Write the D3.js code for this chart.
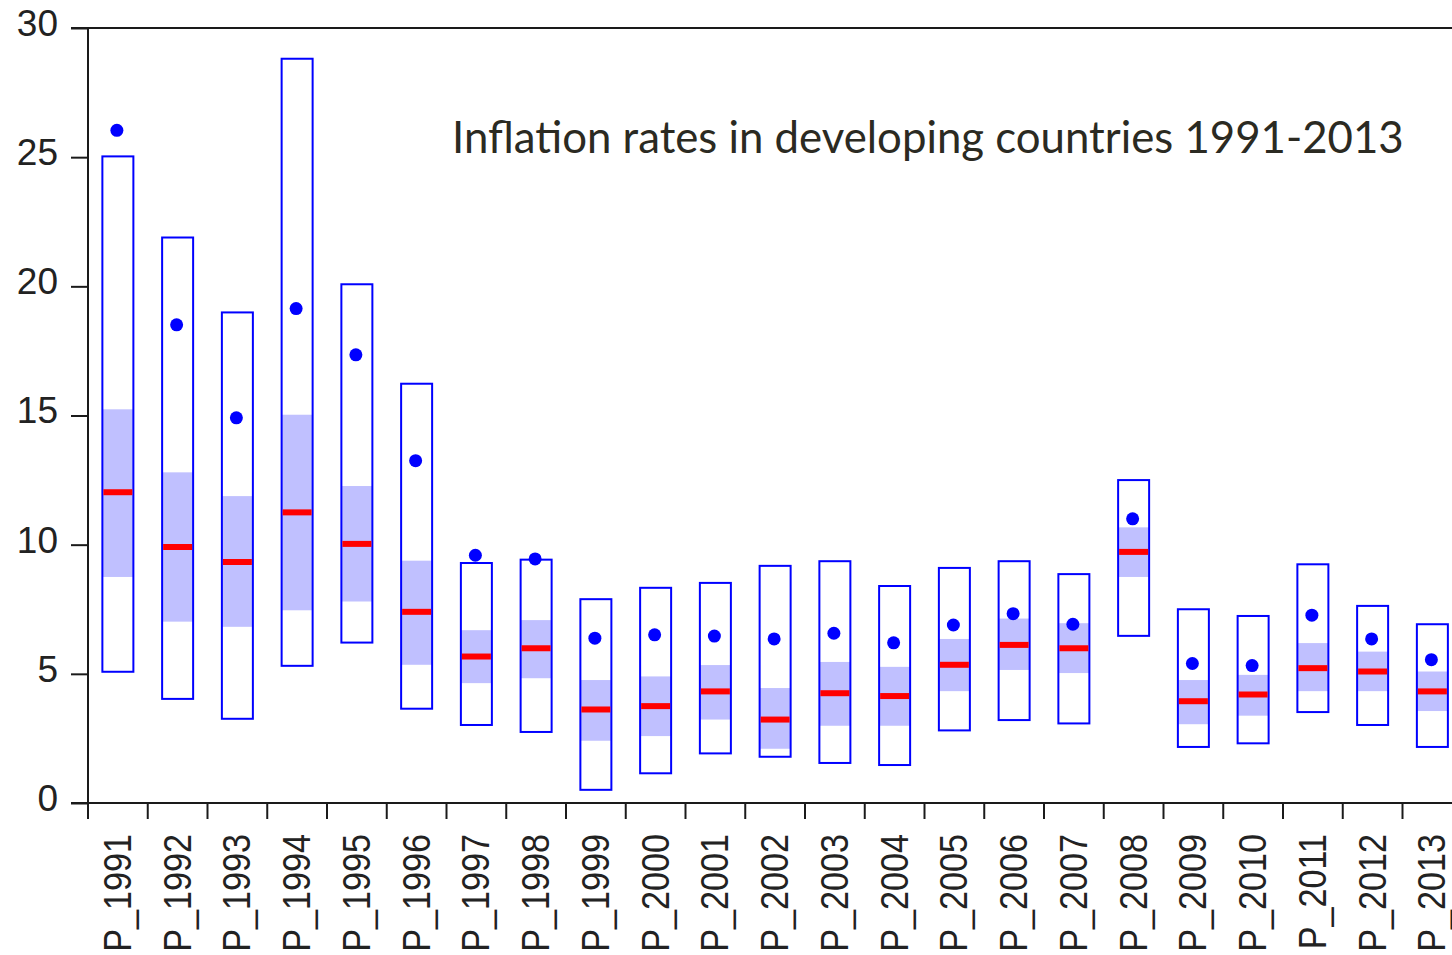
<!DOCTYPE html>
<html>
<head>
<meta charset="utf-8">
<script src="https://cdn.jsdelivr.net/npm/d3@7/dist/d3.min.js"></script>
<style>
html,body{margin:0;padding:0;background:#fff;overflow:hidden;}
svg{display:block;}
</style>
</head>
<body>
<svg id="chart" width="1452" height="955"></svg>
<script>
// ---- data ----
const years = ["P_1991","P_1992","P_1993","P_1994","P_1995","P_1996","P_1997","P_1998","P_1999","P_2000","P_2001","P_2002","P_2003","P_2004","P_2005","P_2006","P_2007","P_2008","P_2009","P_2010","P_2011","P_2012","P_2013"];
const maxVals    = [25.03,21.89,18.99,28.81,20.08,16.23,9.29,9.42,7.89,8.33,8.52,9.18,9.36,8.40,9.10,9.36,8.86,12.50,7.50,7.24,9.24,7.63,6.92];
const minVals    = [5.08,4.03,3.26,5.31,6.21,3.65,3.02,2.75,0.51,1.15,1.92,1.79,1.55,1.47,2.81,3.21,3.08,6.47,2.17,2.31,3.52,3.02,2.17];
const upperVals  = [15.24,12.80,11.88,15.03,12.27,9.38,6.69,7.08,4.76,4.90,5.34,4.45,5.46,5.27,6.35,7.14,6.96,10.67,4.76,4.96,6.19,5.86,5.09];
const lowerVals  = [8.75,7.02,6.82,7.46,7.80,5.35,4.64,4.83,2.41,2.59,3.23,2.10,2.99,2.99,4.33,5.15,5.03,8.75,3.05,3.38,4.33,4.33,3.56];
const medianVals = [12.03,9.91,9.33,11.25,10.03,7.40,5.67,5.99,3.62,3.75,4.32,3.23,4.25,4.14,5.35,6.12,5.99,9.72,3.94,4.20,5.22,5.09,4.32];
const meanVals   = [26.04,18.51,14.91,19.14,17.35,13.25,9.59,9.45,6.38,6.51,6.46,6.35,6.57,6.20,6.89,7.33,6.92,11.00,5.40,5.32,7.27,6.35,5.55];
const yTicks = [0,5,10,15,20,25,30];
const titleText = "Inflation rates in developing countries 1991-2013";

// ---- layout ----
const svg = d3.select("#chart");
const padL = 88, padT = 28, baseY = 803, slot = 59.75;
const x = d3.scaleBand().domain(years).range([padL, padL + years.length * slot]).padding(0);
const y = d3.scaleLinear().domain([0, 30]).range([baseY, padT]);
const boxW = 31;
const axisColor = "#1a1a1a";

// top frame line
svg.append("line").attr("x1", 71).attr("x2", 1452).attr("y1", y(30)).attr("y2", y(30))
  .attr("stroke", axisColor).attr("stroke-width", 2);

// y axis
const yAxis = d3.axisLeft(y).tickValues(yTicks).tickSize(17).tickPadding(13).tickFormat(d3.format("d"));
const gy = svg.append("g").attr("transform", `translate(${padL},0)`).call(yAxis);
gy.select(".domain").remove();
gy.selectAll(".tick line").attr("stroke", axisColor).attr("stroke-width", 2);
gy.selectAll(".tick text").attr("font-family", "'Liberation Sans', Arial, sans-serif")
  .attr("font-size", 37).attr("fill", "#222").attr("dy", "0.2em");
svg.append("line").attr("x1", padL).attr("x2", padL).attr("y1", y(30)).attr("y2", baseY + 16)
  .attr("stroke", axisColor).attr("stroke-width", 2);

// x axis
svg.append("line").attr("x1", 71).attr("x2", 1452).attr("y1", baseY).attr("y2", baseY)
  .attr("stroke", axisColor).attr("stroke-width", 2);
const gx = svg.append("g");
gx.selectAll("line.xt").data(years.slice(1)).join("line").attr("class", "xt")
  .attr("x1", d => x(d)).attr("x2", d => x(d)).attr("y1", baseY).attr("y2", baseY + 16)
  .attr("stroke", axisColor).attr("stroke-width", 2);
gx.selectAll("text").data(years).join("text")
  .attr("transform", d => `translate(${x(d) + x.bandwidth() / 2 + 13},834) rotate(-90) scale(0.9,1)`)
  .attr("text-anchor", "end")
  .attr("font-family", "'Liberation Sans', Arial, sans-serif")
  .attr("font-size", 38).attr("fill", "#222")
  .text(d => d);

// boxes
const data = years.map((k, i) => ({k, max: maxVals[i], min: minVals[i], hi: upperVals[i], lo: lowerVals[i], med: medianVals[i], mean: meanVals[i]}));
const g = svg.append("g");
const cx = d => x(d.k) + x.bandwidth() / 2;
g.selectAll("rect.band").data(data).join("rect").attr("class", "band")
  .attr("x", d => cx(d) - boxW / 2).attr("width", boxW)
  .attr("y", d => y(d.hi)).attr("height", d => y(d.lo) - y(d.hi))
  .attr("fill", "#c0c0ff");
g.selectAll("rect.box").data(data).join("rect").attr("class", "box")
  .attr("x", d => cx(d) - boxW / 2).attr("width", boxW)
  .attr("y", d => y(d.max)).attr("height", d => y(d.min) - y(d.max))
  .attr("fill", "none").attr("stroke", "#0000ff").attr("stroke-width", 2);
g.selectAll("line.med").data(data).join("line").attr("class", "med")
  .attr("x1", d => cx(d) - boxW / 2 + 1).attr("x2", d => cx(d) + boxW / 2 - 1)
  .attr("y1", d => y(d.med)).attr("y2", d => y(d.med))
  .attr("stroke", "#ff0000").attr("stroke-width", 6);
g.selectAll("circle.mean").data(data).join("circle").attr("class", "mean")
  .attr("cx", d => cx(d) - 1).attr("cy", d => y(d.mean)).attr("r", 6.5)
  .attr("fill", "#0000ff");

// title
const title = svg.append("text").attr("x", 452).attr("y", 153)
  .attr("font-family", "Lato, 'Open Sans', sans-serif").attr("font-size", 42)
  .attr("fill", "#2b2a22").text(titleText);
const tw = title.node().getComputedTextLength();
title.attr("font-size", 42 * 952 / tw);
</script>
</body>
</html>
